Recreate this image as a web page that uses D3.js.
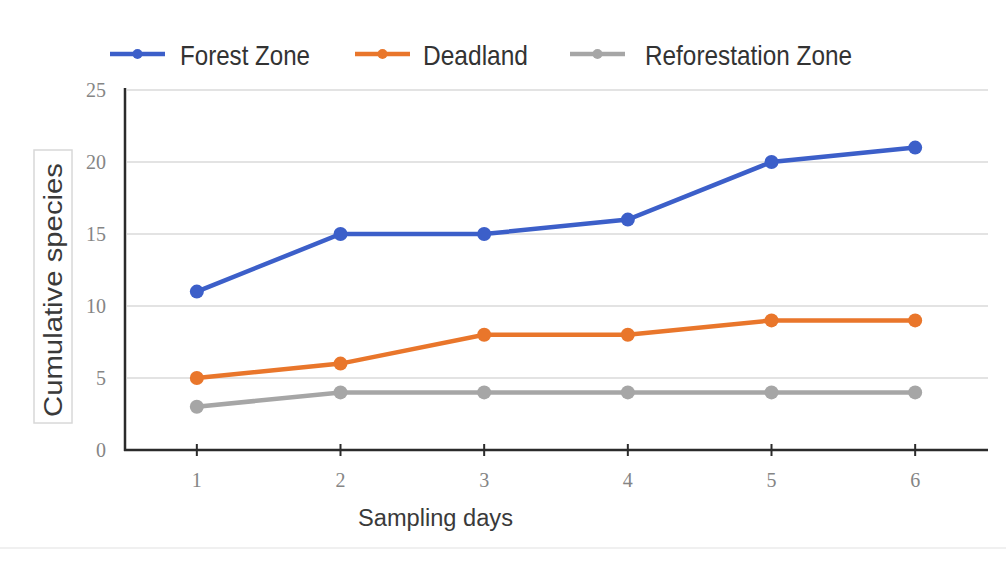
<!DOCTYPE html>
<html>
<head>
<meta charset="utf-8">
<script src="https://cdn.jsdelivr.net/npm/d3@7"></script>
<style>
  body { margin: 0; background: #fff; }
</style>
</head>
<body>
<div class="chart"></div>
<script>
// sampling days and cumulative species per zone
var days = [1, 2, 3, 4, 5, 6];
var forestZone = [11, 15, 15, 16, 20, 21];
var deadland = [5, 6, 8, 8, 9, 9];
var reforestationZone = [3, 4, 4, 4, 4, 4];
var yTicks = [0, 5, 10, 15, 20, 25];

var seriesNames = ["Forest Zone", "Deadland", "Reforestation Zone"];
var seriesValues = [forestZone, deadland, reforestationZone];
var seriesColors = ["#3c5fc9", "#e9762b", "#a6a6a6"];

var width = 1006, height = 561;

var svg = d3.select('.chart')
            .append('svg')
            .attr('width', width)
            .attr('height', height);

// x is a point scale padded by half a step so the axis runs past day 6
var x = d3.scalePoint()
          .domain(days)
          .range([125, 987])
          .padding(0.5);

var y = d3.scaleLinear()
          .domain([0, 25])
          .range([450, 90]);

// horizontal gridlines
svg.append("g")
   .selectAll("line")
   .data(yTicks.slice(1))
   .join("line")
   .attr("x1", 127)
   .attr("x2", 988)
   .attr("y1", d => y(d))
   .attr("y2", d => y(d))
   .attr("stroke", "#e3e3e3")
   .attr("stroke-width", 2);

// y tick labels (serif, grey)
svg.append("g")
   .selectAll("text")
   .data(yTicks)
   .join("text")
   .attr("x", 106)
   .attr("y", d => y(d) + 7)
   .attr("text-anchor", "end")
   .attr("font-family", "Liberation Serif, serif")
   .attr("font-size", 20)
   .attr("fill", "#858585")
   .text(d => d);

// y axis line
svg.append("line")
   .attr("x1", 125).attr("x2", 125)
   .attr("y1", 88).attr("y2", 451)
   .attr("stroke", "#2b2b2b")
   .attr("stroke-width", 2.5);

// x axis line
svg.append("line")
   .attr("x1", 124).attr("x2", 988)
   .attr("y1", 450).attr("y2", 450)
   .attr("stroke", "#2b2b2b")
   .attr("stroke-width", 2.5);

// crossing ticks, one per day plus one at the end of the axis
var tickXs = days.map(d => x(d)).concat([x(days[days.length - 1]) + x.step()]);
svg.append("g")
   .selectAll("line")
   .data(tickXs)
   .join("line")
   .attr("x1", d => d).attr("x2", d => d)
   .attr("y1", 444).attr("y2", 456)
   .attr("stroke", "#2b2b2b")
   .attr("stroke-width", 2);

// x tick labels
svg.append("g")
   .selectAll("text")
   .data(days)
   .join("text")
   .attr("x", d => x(d))
   .attr("y", 487)
   .attr("text-anchor", "middle")
   .attr("font-family", "Liberation Serif, serif")
   .attr("font-size", 20)
   .attr("fill", "#858585")
   .text(d => d);

// x axis title
svg.append("text")
   .attr("x", 358)
   .attr("y", 526)
   .attr("textLength", 155)
   .attr("lengthAdjust", "spacingAndGlyphs")
   .attr("font-family", "Liberation Sans, Arial, sans-serif")
   .attr("font-size", 23)
   .attr("fill", "#3a3a3a")
   .text("Sampling days");

// y axis title inside a light box
svg.append("rect")
   .attr("x", 34).attr("y", 150)
   .attr("width", 38).attr("height", 273)
   .attr("fill", "none")
   .attr("stroke", "#d8d8d8")
   .attr("stroke-width", 1.5);
svg.append("text")
   .attr("transform", "translate(62,417) rotate(-90)")
   .attr("textLength", 254)
   .attr("lengthAdjust", "spacingAndGlyphs")
   .attr("font-family", "Liberation Sans, Arial, sans-serif")
   .attr("font-size", 26)
   .attr("fill", "#3a3a3a")
   .text("Cumulative species");

// lines and markers
var line = d3.line()
             .x((d, i) => x(days[i]))
             .y(d => y(d));

seriesValues.forEach(function(vals, k) {
  svg.append("path")
     .datum(vals)
     .attr("d", line)
     .attr("fill", "none")
     .attr("stroke", seriesColors[k])
     .attr("stroke-width", 4.5);

  svg.append("g")
     .selectAll("circle")
     .data(vals)
     .join("circle")
     .attr("cx", (d, i) => x(days[i]))
     .attr("cy", d => y(d))
     .attr("r", 7)
     .attr("fill", seriesColors[k]);
});

// legend
var legendX = [110, 355, 570];
var legendTextX = [180, 423, 645];
var legendTextW = [130, 105, 207];
seriesNames.forEach(function(name, k) {
  svg.append("line")
     .attr("x1", legendX[k]).attr("x2", legendX[k] + 55)
     .attr("y1", 54).attr("y2", 54)
     .attr("stroke", seriesColors[k])
     .attr("stroke-width", 4.5);
  svg.append("circle")
     .attr("cx", legendX[k] + 27.5)
     .attr("cy", 54)
     .attr("r", 5)
     .attr("fill", seriesColors[k]);
  svg.append("text")
     .attr("x", legendTextX[k])
     .attr("y", 65)
     .attr("textLength", legendTextW[k])
     .attr("lengthAdjust", "spacingAndGlyphs")
     .attr("font-family", "Liberation Sans, Arial, sans-serif")
     .attr("font-size", 28)
     .attr("fill", "#333")
     .text(name);
});

// faint frame line at the bottom
svg.append("line")
   .attr("x1", 0).attr("x2", 1006)
   .attr("y1", 548).attr("y2", 548)
   .attr("stroke", "#f0f0f0")
   .attr("stroke-width", 2);
</script>
</body>
</html>
